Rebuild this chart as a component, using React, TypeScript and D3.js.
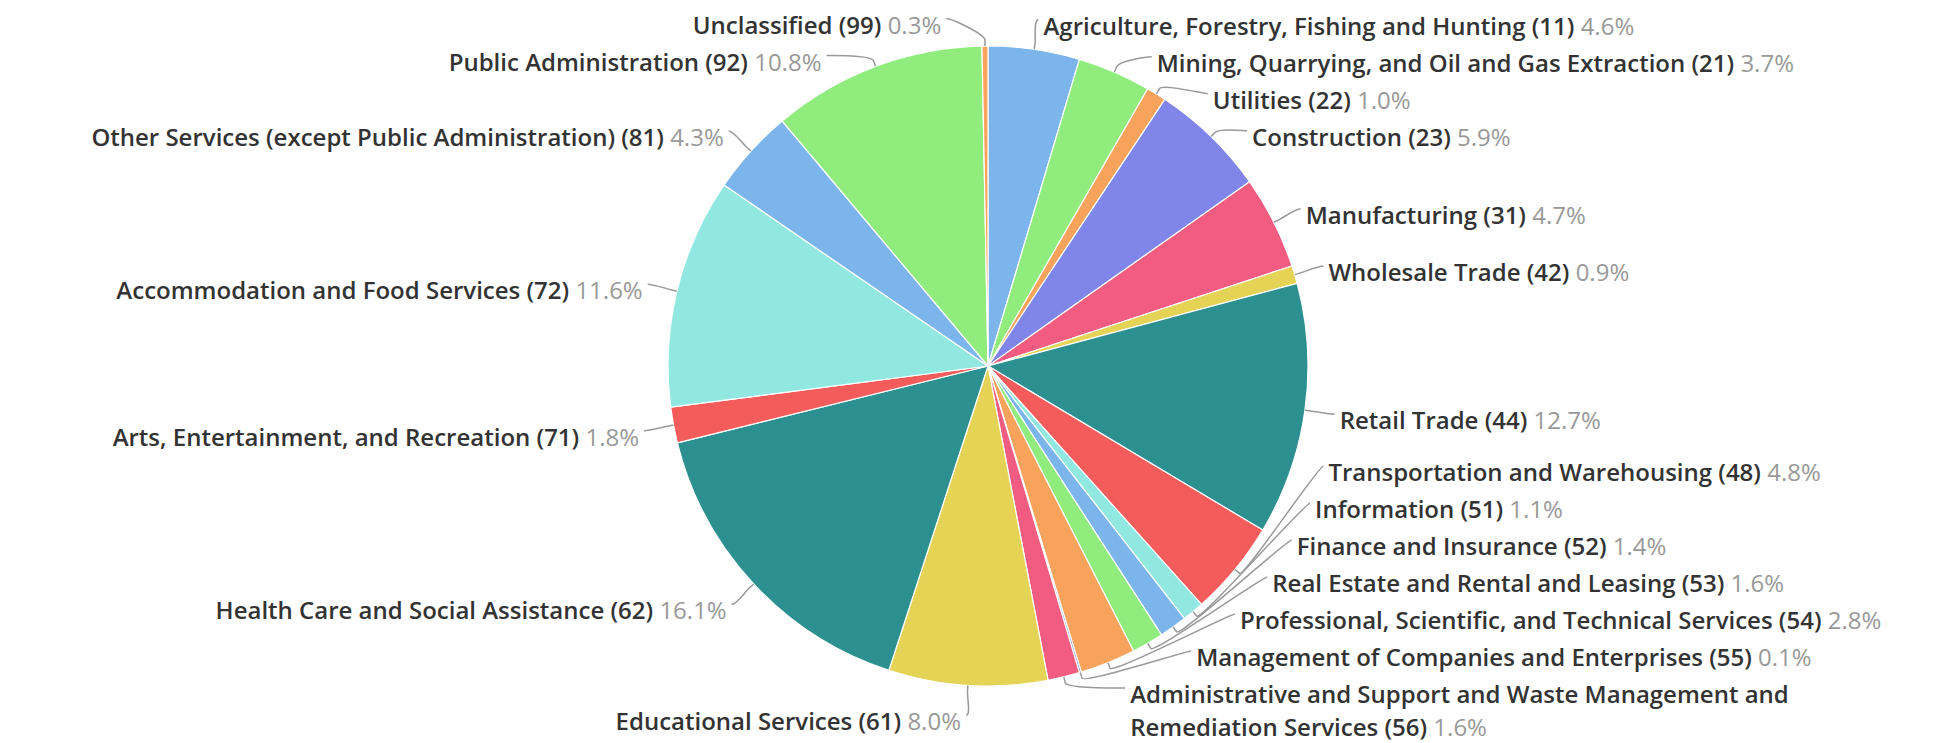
import React from "react";
import * as d3 from "d3";

const sectors = [
  "Agriculture, Forestry, Fishing and Hunting",
  "Mining, Quarrying, and Oil and Gas Extraction",
  "Utilities",
  "Construction",
  "Manufacturing",
  "Wholesale Trade",
  "Retail Trade",
  "Transportation and Warehousing",
  "Information",
  "Finance and Insurance",
  "Real Estate and Rental and Leasing",
  "Professional, Scientific, and Technical Services",
  "Management of Companies and Enterprises",
  "Administrative and Support and Waste Management and Remediation Services",
  "Educational Services",
  "Health Care and Social Assistance",
  "Arts, Entertainment, and Recreation",
  "Accommodation and Food Services",
  "Other Services (except Public Administration)",
  "Public Administration",
  "Unclassified",
];
const codes = [11, 21, 22, 23, 31, 42, 44, 48, 51, 52, 53, 54, 55, 56, 61, 62, 71, 72, 81, 92, 99];
const shares = [4.6, 3.7, 1.0, 5.9, 4.7, 0.9, 12.7, 4.8, 1.1, 1.4, 1.6, 2.8, 0.1, 1.6, 8.0, 16.1, 1.8, 11.6, 4.3, 10.8, 0.3];
const palette = ["#7cb5ec", "#90ed7d", "#f7a35c", "#8085e9", "#f15c80", "#e4d354", "#2b908f", "#f45b5b", "#91e8e1"];

const W = 1959;
const H = 743;
const cx = 988;
const cy = 366;
const r = 320;
const distance = 30;
const padding = 5;
const lineH = 33;
const half = 18.5;

// wrap only the very long label, like the chart does
function wrap(name: string) {
  if (name.length < 60) return [name];
  const words = name.split(" ");
  const lines: string[] = [];
  let cur = "";
  words.forEach((w) => {
    const next = cur ? cur + " " + w : w;
    if (next.length > 52) {
      lines.push(cur);
      cur = w;
    } else cur = next;
  });
  lines.push(cur);
  return lines;
}

export default function App() {
  const arcs = d3.pie<number>().sort(null).value((d) => d)(shares);
  const arcGen = d3.arc<d3.PieArcDatum<number>>().innerRadius(0).outerRadius(r);
  const R = r + distance;

  const labels = arcs.map((a, i) => {
    const mid = (a.startAngle + a.endAngle) / 2;
    const lines = wrap(sectors[i]);
    return {
      i,
      mid,
      left: mid > Math.PI,
      natural: cy - Math.cos(mid) * R,
      y: 0,
      extra: (lines.length - 1) * lineH,
      lines,
    };
  });

  // push labels apart on each side, kept inside the svg
  const spread = (group: typeof labels) => {
    group.sort((a, b) => a.natural - b.natural);
    group.forEach((l, k) => {
      const prev = group[k - 1];
      l.y = Math.max(l.natural, prev ? prev.y + 2 * half + prev.extra : half);
    });
    for (let k = group.length - 1; k >= 0; k--) {
      const l = group[k];
      const next = group[k + 1];
      const lowest = H - 22 - l.extra;
      l.y = Math.min(l.y, next ? next.y - 2 * half - l.extra : lowest, lowest);
    }
  };
  spread(labels.filter((l) => !l.left));
  spread(labels.filter((l) => l.left));

  const getX = (y: number, left: boolean) => {
    const dy = Math.max(-1, Math.min(1, (y - cy) / R));
    return cx + (left ? -1 : 1) * Math.cos(Math.asin(dy)) * R;
  };

  return (
    <svg
      width={W}
      height={H}
      style={{ position: "absolute", left: 0, top: 0, background: "#fff" }}
      fontFamily="'Open Sans', sans-serif"
      fontSize={24}
    >
      <g transform={`translate(${cx},${cy})`}>
        {arcs.map((a, i) => (
          <path key={i} d={arcGen(a) || ""} fill={palette[i % palette.length]} stroke="#fff" strokeWidth={1.2} strokeLinejoin="round" />
        ))}
      </g>
      {labels.map((l) => {
        const x = getX(l.y, l.left);
        const s = Math.sin(l.mid);
        const c = -Math.cos(l.mid);
        const touch = [cx + s * r, cy + c * r];
        const brk = [cx + s * (r + 6), cy + c * (r + 6)];
        const dir = l.left ? 1 : -1;
        const path = `M${x},${l.y}C${x + dir * 5},${l.y} ${2 * brk[0] - touch[0]},${2 * brk[1] - touch[1]} ${brk[0]},${brk[1]}L${touch[0]},${touch[1]}`;
        const tx = x + (l.left ? -padding : padding);
        const pct = shares[l.i].toFixed(1) + "%";
        return (
          <g key={l.i}>
            <path d={path} fill="none" stroke="#999" strokeWidth={1.5} />
            {l.lines.map((line, k) => {
              const last = k === l.lines.length - 1;
              return (
                <text
                  key={k}
                  x={tx}
                  y={l.y + 5 + k * lineH}
                  textAnchor={l.left ? "end" : "start"}
                  dominantBaseline="central"
                >
                  <tspan fill="#333" fontWeight={600}>
                    {last ? `${line} (${codes[l.i]}) ` : line}
                  </tspan>
                  {last && <tspan fill="#999">{pct}</tspan>}
                </text>
              );
            })}
          </g>
        );
      })}
    </svg>
  );
}
